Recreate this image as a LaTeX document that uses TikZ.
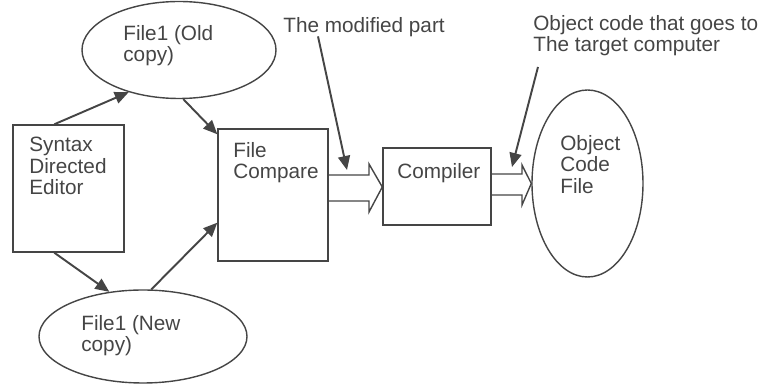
\documentclass[tikz,border=0pt]{standalone}
\usepackage{fontspec}
\setmainfont{Liberation Sans}
\usetikzlibrary{arrows.meta,shapes.geometric}
\definecolor{ink}{HTML}{454545}
\begin{document}
\begin{tikzpicture}[font=\fontsize{11.8}{12.2}\selectfont,
  box/.style={draw=ink, line width=0.8pt, inner sep=0},
  blob/.style={draw=ink, line width=0.8pt, ellipse, inner sep=0},
  lbl/.style={anchor=north west, inner sep=0, align=left, text=ink},
  hollow/.style={draw=ink, line width=0.8pt, line join=miter},
  arr/.style={draw=ink, line width=1.1pt, -{Triangle[length=0.28cm, width=0.24cm]}}]
  \useasboundingbox (0,0) rectangle (15.32,7.68);
  % 编辑器
  \node[box, minimum width=2.22cm, minimum height=2.54cm] (editor) at (1.37,3.91) {};
  \node[lbl] (editortxt) at (0.58,4.94) {Syntax\\Directed\\Editor};
  % 旧文件与新文件
  \node[blob, minimum width=3.88cm, minimum height=1.94cm] (old) at (3.58,6.68) {};
  \node[lbl] (oldtxt) at (2.46,7.18) {File1 (Old\\copy)};
  \node[blob, minimum width=4.16cm, minimum height=1.86cm] (new) at (2.86,0.95) {};
  \node[lbl] (newtxt) at (1.62,1.38) {File1 (New\\copy)};
  % 文件比较与编译器
  \node[box, minimum width=2.20cm, minimum height=2.64cm] (fc) at (5.46,3.78) {};
  \node[lbl] (fctxt) at (4.66,4.84) {File\\Compare};
  \node[box, minimum width=2.16cm, minimum height=1.54cm] (cmp) at (8.74,3.95) {};
  \node[lbl] (cmptxt) at (7.94,4.42) {Compiler};
  % 目标代码文件
  \node[blob, minimum width=2.22cm, minimum height=3.74cm] (obj) at (11.75,4.01) {};
  \node[lbl] (objtxt) at (11.20,4.98) {Object\\Code\\File};
  % 说明文字
  \node[lbl] (modtxt) at (5.66,7.34) {The modified part};
  \node[lbl] (objnote) at (10.66,7.38) {Object code that goes to\\The target computer};
  % 实线箭头
  \draw[arr] ([xshift=0.84cm]editor.north west) -- (old.220);
  \draw[arr] (old.275) -- ([yshift=-0.12cm]fc.north west);
  \draw[arr] ([xshift=0.84cm]editor.south west) -- (new.127);
  \draw[arr] (new.80) -- ([yshift=0.78cm]fc.south west);
  % 空心箭头
  \draw[hollow] (fc.east |- 0,4.18) -- (7.38,4.18) -- (7.38,4.40) -- (cmp.west |- 0,3.94)
    -- (7.38,3.44) -- (7.38,3.66) -- (fc.east |- 0,3.66);
  \draw[hollow] (cmp.east |- 0,4.20) -- (10.44,4.20) -- (10.44,4.38) -- (obj.west)
    -- (10.44,3.58) -- (10.44,3.78) -- (cmp.east |- 0,3.78);
  % 指示线
  \coordinate (modtip) at (6.94,4.28);
  \coordinate (objtip) at (10.24,4.34);
  \draw[arr] ([xshift=0.70cm, yshift=-0.08cm]modtxt.base west) -- (modtip);
  \draw[arr] ([xshift=0.10cm, yshift=-0.21cm]objnote.south west) -- (objtip);
\end{tikzpicture}
\end{document}
